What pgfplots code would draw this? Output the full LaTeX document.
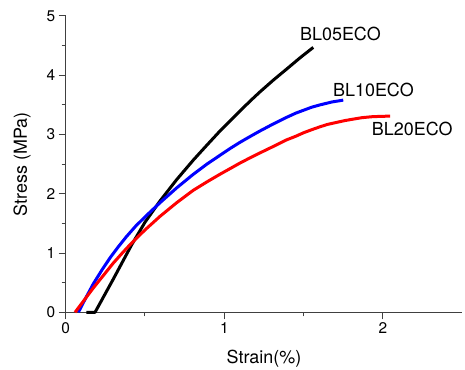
\documentclass[border=0pt]{standalone}
\usepackage{pgfplots}
\pgfplotsset{compat=1.18}
\usepackage{fontspec}
\setmainfont{TeX Gyre Heros}
\begin{document}
\begin{tikzpicture}
\useasboundingbox (-65.7bp,-57.7bp) rectangle (399.3bp,312.3bp);
\begin{axis}[
  at={(0,0)}, anchor=south west,
  scale only axis,
  width=396.5bp, height=296.3bp,
  xmin=0, xmax=2.5, ymin=0, ymax=5,
  axis x line=bottom, axis y line=left,
  axis line style={-, line width=1.1bp, black!75},
  tick align=outside,
  tick style={line width=1bp, black!75},
  major tick length=7bp, minor tick length=4bp,
  xtick={0,1,2}, minor xtick={0.5,1.5},
  ytick={0,1,2,3,4,5}, minor ytick={0.5,1.5,2.5,3.5,4.5},
  /pgf/number format/assume math mode=true,
  tick label style={font=\fontsize{15.5}{17}\selectfont},
  xlabel={Strain(\%)}, ylabel={Stress (MPa)},
  label style={font=\fontsize{18}{20}\selectfont},
  xlabel style={at={(axis description cs:0.5,-0.155)}, anchor=center},
  ylabel style={at={(axis description cs:-0.11,0.5)}, anchor=center},
  clip=false,
]
\addplot[black, line width=3bp, line join=round, sharp plot] coordinates {
(0.13,0) (0.185,0) (0.30,0.56) (0.416,1.14) (0.50,1.52) (0.595,1.88) (0.70,2.24) (0.805,2.57) (0.89,2.82) (0.973,3.06) (1.04,3.24) (1.10,3.40) (1.165,3.57) (1.225,3.72) (1.31,3.92) (1.40,4.12) (1.48,4.30) (1.561,4.47)};
\addplot[blue, line width=3bp, line join=round, sharp plot] coordinates {
(0.08,0) (0.13,0.26) (0.174,0.48) (0.23,0.72) (0.28,0.92) (0.33,1.10) (0.384,1.28) (0.44,1.45) (0.50,1.61) (0.595,1.85) (0.70,2.10) (0.805,2.33) (0.89,2.50) (0.973,2.65) (1.04,2.77) (1.10,2.87) (1.165,2.97) (1.225,3.06) (1.31,3.18) (1.393,3.29) (1.45,3.36) (1.50,3.41) (1.55,3.46) (1.603,3.50) (1.68,3.55) (1.75,3.58)};
\addplot[red, line width=3bp, line join=round, sharp plot] coordinates {
(0.059,0) (0.115,0.20) (0.174,0.41) (0.24,0.63) (0.30,0.83) (0.36,1.01) (0.416,1.17) (0.50,1.39) (0.595,1.62) (0.70,1.85) (0.805,2.06) (0.89,2.20) (0.973,2.33) (1.04,2.43) (1.10,2.52) (1.165,2.61) (1.225,2.69) (1.31,2.80) (1.393,2.91) (1.45,2.97) (1.50,3.03) (1.55,3.08) (1.603,3.13) (1.65,3.17) (1.70,3.20) (1.76,3.235) (1.813,3.26) (1.87,3.285) (1.93,3.30) (1.99,3.307) (2.045,3.31)};
\node[anchor=west, inner sep=0pt, font=\fontsize{18}{20}\selectfont] at (axis cs:1.477,4.69) {BL05ECO};
\node[anchor=west, inner sep=0pt, font=\fontsize{18}{20}\selectfont] at (axis cs:1.685,3.76) {BL10ECO};
\node[anchor=west, inner sep=0pt, font=\fontsize{18}{20}\selectfont] at (axis cs:1.93,3.10) {BL20ECO};
\end{axis}
\end{tikzpicture}
\end{document}
